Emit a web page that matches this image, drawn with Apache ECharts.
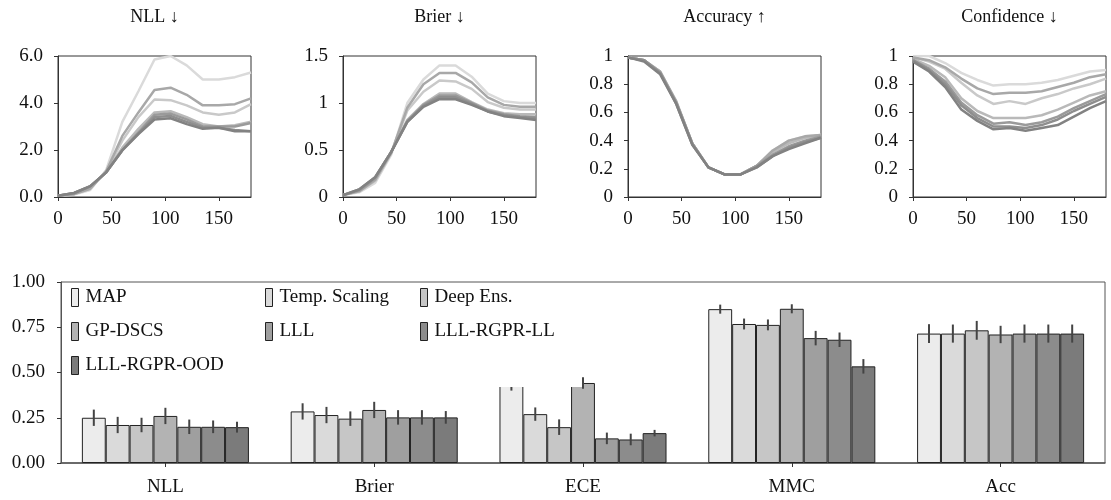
<!DOCTYPE html>
<html>
<head>
<meta charset="utf-8">
<script src="https://cdn.jsdelivr.net/npm/echarts@6/dist/echarts.min.js"></script>
<style>
  html, body { margin: 0; padding: 0; background: #fff; }
  #chart { width: 1111px; height: 500px; }
</style>
</head>
<body>
<div id="chart"></div>
<script>
// Rotation angles (degrees) for the shift curves
const angles = [0, 15, 30, 45, 60, 75, 90, 105, 120, 135, 150, 165, 180];

const methods = ['MAP', 'Temp. Scaling', 'Deep Ens.', 'GP-DSCS', 'LLL', 'LLL-RGPR-LL', 'LLL-RGPR-OOD'];
const barColors  = ['#ececec', '#dadada', '#c6c6c6', '#b3b3b3', '#9f9f9f', '#8c8c8c', '#7b7b7b'];
const lineColors = ['#dadada', '#c9c9c9', '#b9b9b9', '#a8a8a8', '#9a9a9a', '#8e8e8e', '#828282'];

// Curves per method, in the order of `methods`
const nllCurves = [
  [0.05, 0.10, 0.30, 1.15, 3.20, 4.50, 5.85, 6.00, 5.60, 5.00, 5.00, 5.10, 5.30],
  [0.05, 0.12, 0.35, 1.10, 2.40, 3.40, 4.15, 4.12, 3.90, 3.60, 3.50, 3.60, 3.95],
  [0.05, 0.15, 0.42, 1.05, 2.10, 2.90, 3.60, 3.65, 3.40, 3.10, 3.00, 3.05, 3.20],
  [0.05, 0.12, 0.35, 1.10, 2.60, 3.60, 4.55, 4.65, 4.35, 3.90, 3.90, 3.95, 4.20],
  [0.05, 0.16, 0.45, 1.05, 2.00, 2.75, 3.50, 3.55, 3.30, 3.00, 3.00, 3.00, 3.15],
  [0.05, 0.17, 0.45, 1.05, 2.00, 2.70, 3.40, 3.45, 3.20, 2.95, 2.95, 2.85, 2.80],
  [0.05, 0.17, 0.46, 1.05, 1.98, 2.68, 3.30, 3.35, 3.10, 2.90, 2.95, 2.80, 2.80]
];
const brierCurves = [
  [0.02, 0.05, 0.15, 0.45, 1.00, 1.25, 1.40, 1.40, 1.28, 1.10, 1.02, 1.00, 1.00],
  [0.02, 0.06, 0.17, 0.47, 0.92, 1.12, 1.24, 1.23, 1.15, 1.01, 0.95, 0.93, 0.93],
  [0.02, 0.07, 0.20, 0.48, 0.82, 0.99, 1.10, 1.10, 1.01, 0.93, 0.89, 0.88, 0.88],
  [0.02, 0.06, 0.18, 0.47, 0.95, 1.20, 1.32, 1.32, 1.22, 1.06, 0.98, 0.96, 0.96],
  [0.02, 0.07, 0.20, 0.48, 0.81, 0.98, 1.08, 1.08, 1.00, 0.92, 0.88, 0.86, 0.85],
  [0.02, 0.08, 0.21, 0.48, 0.80, 0.97, 1.06, 1.06, 0.99, 0.91, 0.87, 0.85, 0.84],
  [0.02, 0.08, 0.21, 0.48, 0.80, 0.96, 1.04, 1.04, 0.98, 0.91, 0.86, 0.84, 0.82]
];
const accCurves = [
  [0.99, 0.97, 0.89, 0.67, 0.38, 0.21, 0.16, 0.16, 0.22, 0.33, 0.40, 0.43, 0.44],
  [0.99, 0.97, 0.89, 0.67, 0.38, 0.21, 0.16, 0.16, 0.22, 0.32, 0.39, 0.42, 0.44],
  [0.99, 0.97, 0.88, 0.67, 0.38, 0.21, 0.16, 0.16, 0.22, 0.32, 0.38, 0.42, 0.44],
  [0.99, 0.97, 0.89, 0.68, 0.38, 0.21, 0.16, 0.16, 0.22, 0.33, 0.40, 0.43, 0.44],
  [0.99, 0.97, 0.88, 0.67, 0.38, 0.21, 0.16, 0.16, 0.22, 0.30, 0.36, 0.40, 0.43],
  [0.99, 0.97, 0.88, 0.66, 0.37, 0.21, 0.16, 0.16, 0.21, 0.29, 0.35, 0.39, 0.42],
  [0.99, 0.96, 0.87, 0.66, 0.37, 0.21, 0.16, 0.16, 0.21, 0.29, 0.34, 0.38, 0.42]
];
const confCurves = [
  [1.00, 1.00, 0.95, 0.88, 0.83, 0.79, 0.80, 0.80, 0.81, 0.83, 0.86, 0.89, 0.90],
  [0.99, 0.96, 0.91, 0.81, 0.72, 0.66, 0.68, 0.66, 0.70, 0.73, 0.77, 0.80, 0.84],
  [0.98, 0.93, 0.85, 0.70, 0.61, 0.56, 0.56, 0.56, 0.58, 0.62, 0.67, 0.72, 0.75],
  [0.99, 0.97, 0.92, 0.84, 0.77, 0.73, 0.74, 0.74, 0.75, 0.78, 0.81, 0.85, 0.87],
  [0.97, 0.91, 0.82, 0.67, 0.58, 0.52, 0.53, 0.51, 0.53, 0.57, 0.63, 0.68, 0.73],
  [0.97, 0.90, 0.80, 0.65, 0.56, 0.50, 0.50, 0.49, 0.51, 0.55, 0.61, 0.66, 0.71],
  [0.96, 0.89, 0.78, 0.62, 0.54, 0.48, 0.49, 0.47, 0.49, 0.51, 0.57, 0.63, 0.68]
];

// Summary metrics (bars) with error half-widths, per method
const barMetrics = ['NLL', 'Brier', 'ECE', 'MMC', 'Acc'];
const barMeans = [
  [0.250, 0.285, 0.450, 0.850, 0.715],
  [0.210, 0.265, 0.270, 0.768, 0.715],
  [0.210, 0.245, 0.198, 0.763, 0.733],
  [0.260, 0.293, 0.442, 0.852, 0.710],
  [0.200, 0.252, 0.136, 0.690, 0.715],
  [0.200, 0.252, 0.130, 0.681, 0.715],
  [0.198, 0.252, 0.165, 0.534, 0.715]
];
const barErrs = [
  [0.045, 0.045, 0.050, 0.025, 0.052],
  [0.045, 0.045, 0.037, 0.030, 0.050],
  [0.040, 0.040, 0.043, 0.030, 0.052],
  [0.045, 0.045, 0.032, 0.025, 0.048],
  [0.040, 0.040, 0.032, 0.040, 0.050],
  [0.035, 0.040, 0.032, 0.040, 0.050],
  [0.030, 0.035, 0.018, 0.040, 0.050]
];

const panels = [
  { title: 'NLL \u2193',        curves: nllCurves,   max: 6,   interval: 2,   fmt: v => v.toFixed(1) },
  { title: 'Brier \u2193',      curves: brierCurves, max: 1.5, interval: 0.5, fmt: v => String(v) },
  { title: 'Accuracy \u2191',   curves: accCurves,   max: 1,   interval: 0.2, fmt: v => String(+v.toFixed(1)) },
  { title: 'Confidence \u2193', curves: confCurves,  max: 1,   interval: 0.2, fmt: v => String(+v.toFixed(1)) }
];

const FONT = 'Liberation Serif';
const panelLeft = [58, 343, 628, 913];
const panelW = 193, panelTop = 56, panelH = 141;

const grids = [], xAxes = [], yAxes = [], series = [], graphics = [];

panels.forEach((p, i) => {
  grids.push({ left: panelLeft[i], top: panelTop, width: panelW, height: panelH,
    show: true, borderColor: '#333', borderWidth: 1, backgroundColor: 'transparent' });
  xAxes.push({ type: 'value', gridIndex: i, min: 0, max: 180, interval: 50,
    axisLine: { show: true, onZero: false, lineStyle: { color: '#333', width: 1 } },
    axisTick: { show: true, length: 4, lineStyle: { color: '#333' } },
    axisLabel: { showMaxLabel: false, margin: 13, fontFamily: FONT, fontSize: 19, color: '#111' },
    splitLine: { show: false } });
  yAxes.push({ type: 'value', gridIndex: i, min: 0, max: p.max, interval: p.interval,
    axisLine: { show: true, onZero: false, lineStyle: { color: '#333', width: 1 } },
    axisTick: { show: true, length: 4, lineStyle: { color: '#333' } },
    axisLabel: { formatter: p.fmt, margin: 15, fontFamily: FONT, fontSize: 19, color: '#111' },
    splitLine: { show: false } });
  graphics.push({ type: 'text', x: panelLeft[i] + panelW / 2, y: 17, z: 10,
    style: { text: p.title, fill: '#111', font: '18px "' + FONT + '"',
      textAlign: 'center', textVerticalAlign: 'middle' } });
});

// Bar chart grid
const BG = 4;
grids.push({ left: 61, top: 282, width: 1044, height: 181,
  show: true, borderColor: '#555', borderWidth: 1, backgroundColor: 'transparent' });
xAxes.push({ type: 'category', gridIndex: BG, data: barMetrics,
  axisLine: { show: true, lineStyle: { color: '#555', width: 1.5 } },
  axisTick: { show: true, alignWithLabel: true, length: 4, lineStyle: { color: '#333' } },
  axisLabel: { margin: 15, fontFamily: FONT, fontSize: 19, color: '#111' } });
yAxes.push({ type: 'value', gridIndex: BG, min: 0, max: 1, interval: 0.25,
  axisLine: { show: true, lineStyle: { color: '#555', width: 1 } },
  axisTick: { show: true, length: 4, lineStyle: { color: '#333' } },
  axisLabel: { formatter: v => v.toFixed(2), margin: 16, fontFamily: FONT, fontSize: 19, color: '#111' },
  splitLine: { show: false } });

// Bars first, so legend icons take the bar style
methods.forEach((m, k) => {
  series.push({ type: 'bar', name: m, xAxisIndex: BG, yAxisIndex: BG,
    data: barMeans[k], barGap: '0%', barCategoryGap: '20%', z: 2,
    itemStyle: { color: barColors[k], borderColor: '#222', borderWidth: 1 } });
});

// Error bars drawn through the bar axes
const errData = [];
methods.forEach((m, k) => {
  barMetrics.forEach((c, j) => errData.push([j, barMeans[k][j], barErrs[k][j], k]));
});
series.push({ type: 'custom', name: 'err', xAxisIndex: BG, yAxisIndex: BG, z: 3,
  encode: { x: 0, y: 1 }, data: errData, silent: true,
  renderItem: (params, api) => {
    const c = api.value(0), v = api.value(1), e = api.value(2), k = api.value(3);
    const band = api.size([1, 0])[0];
    const bw = band * 0.8 / methods.length;
    const x = api.coord([c, v])[0] + (k - (methods.length - 1) / 2) * bw;
    const y1 = api.coord([c, v + e])[1], y2 = api.coord([c, v - e])[1];
    return { type: 'line', shape: { x1: x, y1: y1, x2: x, y2: y2 },
      style: { stroke: '#444', lineWidth: 2 } };
  } });

// Shift curves
panels.forEach((p, i) => {
  methods.forEach((m, k) => {
    series.push({ type: 'line', name: m, xAxisIndex: i, yAxisIndex: i,
      data: angles.map((a, t) => [a, p.curves[k][t]]),
      showSymbol: false, symbol: 'none', smooth: false,
      lineStyle: { color: lineColors[k], width: 2.5 }, itemStyle: { color: lineColors[k] } });
  });
});

// White backdrop behind the legend
graphics.push({ type: 'rect', z: 20, shape: { x: 63, y: 284, width: 519, height: 103 },
  style: { fill: '#fff' } });

const legendCols = [
  { left: 71,  data: ['MAP', 'GP-DSCS', 'LLL-RGPR-OOD'] },
  { left: 265, data: ['Temp. Scaling', 'LLL'] },
  { left: 420, data: ['Deep Ens.', 'LLL-RGPR-LL'] }
];
const legends = legendCols.map(col => ({
  orient: 'vertical', left: col.left, top: 288, padding: 0, itemGap: 15, z: 30,
  itemWidth: 7, itemHeight: 18, icon: 'rect', selectedMode: false,
  data: col.data,
  itemStyle: { borderColor: '#222', borderWidth: 1 },
  textStyle: { fontFamily: FONT, fontSize: 19, color: '#111', padding: [0, 0, 0, 2] }
}));

const chart = echarts.init(document.getElementById('chart'), null, { renderer: 'canvas' });
chart.setOption({
  animation: false,
  backgroundColor: '#fff',
  grid: grids, xAxis: xAxes, yAxis: yAxes,
  legend: legends,
  graphic: graphics,
  series: series
});
</script>
</body>
</html>
